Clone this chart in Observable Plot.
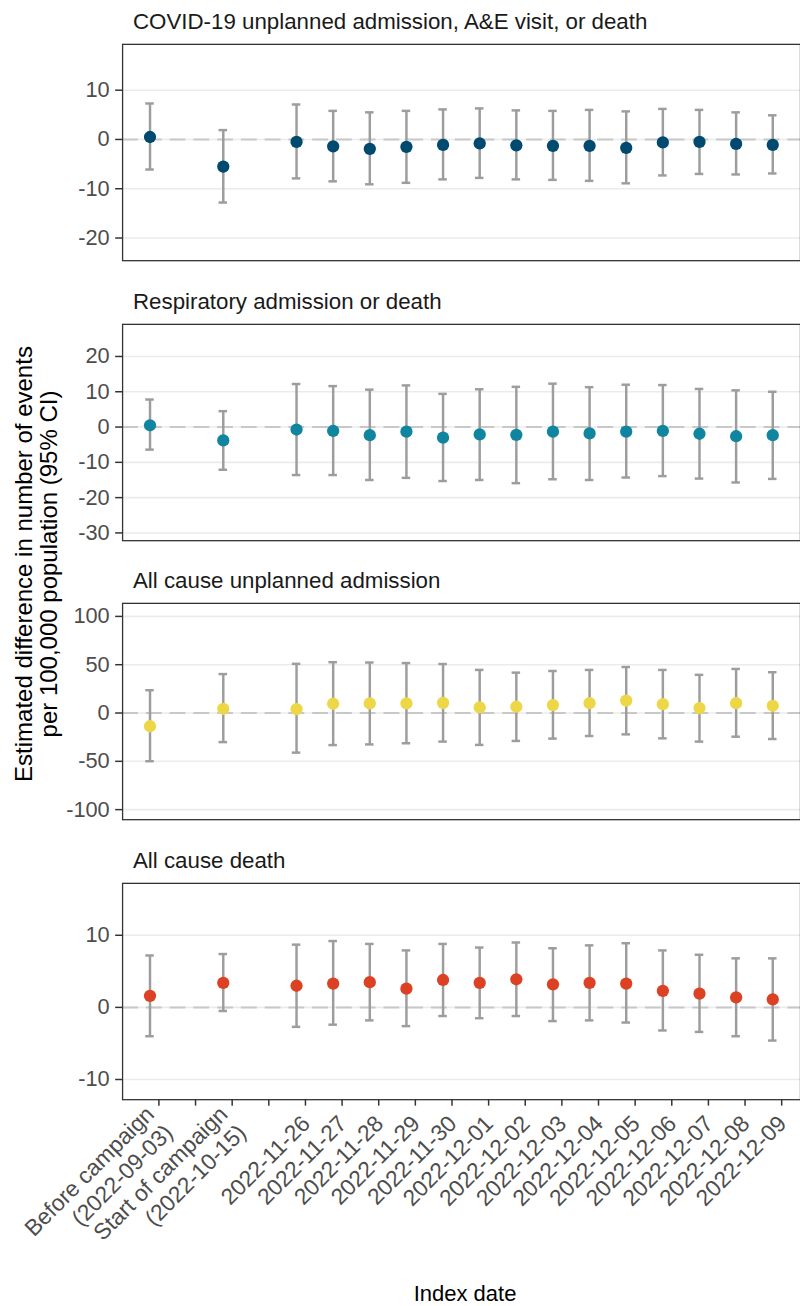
<!DOCTYPE html>
<html><head><meta charset="utf-8">
<script src="https://cdn.jsdelivr.net/npm/d3@7"></script>
<script src="https://cdn.jsdelivr.net/npm/@observablehq/plot@0.6"></script>
<style>
html,body{margin:0;padding:0;background:#fff;overflow:hidden}
#fig{position:relative;width:800px;height:1306px;overflow:hidden;font-family:"Liberation Sans",Arial,sans-serif;background:#fff}
#fig svg{position:absolute;left:0}
.strip{position:absolute;left:133px;font-size:22.3px;line-height:22px;color:#1a1a1a;white-space:nowrap}
.ytitle{position:absolute;width:600px;height:50px;left:-264px;top:538.5px;transform:rotate(-90deg);text-align:center;font-size:24px;line-height:25px;color:#000;white-space:nowrap}
.xtitle{position:absolute;left:265px;width:400px;top:1283px;text-align:center;font-size:22px;line-height:22px;color:#000}
</style></head>
<body><div id="fig"></div>
<script>
// Categories on the x axis (two unlabeled gap positions)
const xCategories = ["Before campaign\n(2022-09-03)", "gap1", "Start of campaign\n(2022-10-15)", "gap2",
  "2022-11-26","2022-11-27","2022-11-28","2022-11-29","2022-11-30","2022-12-01","2022-12-02",
  "2022-12-03","2022-12-04","2022-12-05","2022-12-06","2022-12-07","2022-12-08","2022-12-09"];
const indexDates = xCategories.filter(d => !d.startsWith("gap"));

const outcomes = ["COVID-19 unplanned admission, A&E visit, or death", "Respiratory admission or death",
  "All cause unplanned admission", "All cause death"];
const outcomeColors = ["#00496f", "#0f85a0", "#edd746", "#dd4124"];

const covidEst  = [0.5, -5.5, -0.5, -1.4, -1.9, -1.5, -1.1, -0.8, -1.2, -1.3, -1.3, -1.7, -0.6, -0.5, -0.9, -1.1];
const covidLow  = [-6.1, -12.8, -7.9, -8.5, -9.1, -8.8, -8.1, -7.8, -8.1, -8.2, -8.4, -8.9, -7.3, -7.0, -7.1, -6.9];
const covidHigh = [7.3, 1.9, 7.1, 5.8, 5.5, 5.8, 6.1, 6.3, 5.9, 5.8, 6.0, 5.7, 6.2, 6.0, 5.5, 4.9];

const respEst  = [0.5, -3.8, -0.7, -1.1, -2.3, -1.3, -3.0, -2.1, -2.2, -1.3, -1.8, -1.3, -1.1, -1.9, -2.6, -2.3];
const respLow  = [-6.4, -12.1, -13.6, -13.6, -15.0, -14.4, -15.3, -15.0, -15.9, -14.8, -15.0, -14.3, -13.9, -14.6, -15.7, -14.7];
const respHigh = [7.8, 4.5, 12.2, 11.6, 10.6, 11.8, 9.4, 10.7, 11.4, 12.3, 11.3, 12.0, 11.9, 10.8, 10.4, 10.0];

const admEst  = [-13.7, 4.4, 4.1, 9.6, 9.9, 9.9, 10.5, 5.8, 6.5, 8.2, 10.2, 12.9, 9.2, 5.1, 10.2, 7.5];
const admLow  = [-49.9, -30.1, -41.0, -33.2, -32.5, -31.3, -29.6, -33.0, -28.9, -26.5, -23.8, -22.1, -26.2, -29.6, -24.5, -26.9];
const admHigh = [23.6, 40.3, 50.9, 52.6, 52.3, 51.7, 50.7, 44.6, 41.8, 43.5, 44.6, 47.6, 44.6, 39.5, 45.6, 42.2];

const deathEst  = [1.6, 3.4, 3.0, 3.3, 3.5, 2.6, 3.8, 3.4, 3.9, 3.2, 3.4, 3.3, 2.3, 1.9, 1.4, 1.1];
const deathLow  = [-4.0, -0.5, -2.7, -2.4, -1.8, -2.6, -1.2, -1.5, -1.2, -1.9, -1.8, -2.1, -3.2, -3.4, -4.0, -4.6];
const deathHigh = [7.2, 7.4, 8.7, 9.2, 8.8, 7.9, 8.8, 8.3, 9.0, 8.2, 8.6, 8.9, 7.9, 7.3, 6.8, 6.8];

const yDomains = [[-24.6, 19.3], [-32.2, 29.1], [-110.4, 113.5], [-12.8, 17.2]];
const yTicks = [[-20, -10, 0, 10], [-30, -20, -10, 0, 10, 20], [-100, -50, 0, 50, 100], [-10, 0, 10]];

const series = [
  [covidEst, covidLow, covidHigh],
  [respEst, respLow, respHigh],
  [admEst, admLow, admHigh],
  [deathEst, deathLow, deathHigh]
];

const fig = document.getElementById("fig");
const panelTops = [44, 323.5, 603, 882.5];
const panelH = 218.5;
const pad = 14;
const bottomExtra = 206;
const font = '"Liberation Sans", Arial, sans-serif';
const barColor = "#9d9d9d";

series.forEach(([est, low, high], p) => {
  const data = indexDates.map((d, i) => ({date: d, est: est[i], low: low[i], high: high[i]}));
  const last = p === series.length - 1;
  const marks = [
    Plot.gridY(yTicks[p], {stroke: "#ebebeb", strokeOpacity: 1, strokeWidth: 1.6}),
    Plot.ruleY([0], {stroke: "#c8c8c8", strokeWidth: 2, strokeDasharray: "16,8"}),
    Plot.ruleX(data, {x: "date", y1: "low", y2: "high", stroke: barColor, strokeWidth: 2.5}),
    Plot.ruleY(data, {x1: "date", x2: "date", y: "high", insetLeft: -4.3, insetRight: -4.3, stroke: barColor, strokeWidth: 2.5}),
    Plot.ruleY(data, {x1: "date", x2: "date", y: "low", insetLeft: -4.3, insetRight: -4.3, stroke: barColor, strokeWidth: 2.5}),
    Plot.dot(data, {x: "date", y: "est", r: 6.2, fill: outcomeColors[p], stroke: "none"}),
    Plot.frame({stroke: "#333333", strokeWidth: 1.3}),
    Plot.axisY({ticks: yTicks[p], tickSize: 7, tickPadding: 6, fontSize: 22, fill: "#4d4d4d", stroke: "#333333",
      strokeWidth: 1.5, label: null, tickFormat: d => String(d)})
  ];
  if (last) {
    marks.push(Plot.axisX({tickSize: 6.5, tickPadding: 13, tickRotate: -45, fontSize: 23, lineHeight: 1.15,
      dx: 9, fill: "#4d4d4d", stroke: "#333333", strokeWidth: 1.5, label: null,
      tickFormat: d => d.startsWith("gap") ? "" : d}));
  }
  const svg = Plot.plot({
    width: 808,
    height: panelH + pad + (last ? bottomExtra : pad),
    marginLeft: 123.3, marginRight: 0, marginTop: pad, marginBottom: last ? bottomExtra : pad,
    style: {fontFamily: font, background: "transparent", color: "#333333"},
    x: {type: "point", domain: xCategories, padding: 0.6, axis: null},
    y: {domain: yDomains[p], axis: null},
    marks
  });
  svg.style.top = (panelTops[p] - pad) + "px";
  fig.appendChild(svg);

  const strip = document.createElement("div");
  strip.className = "strip";
  strip.textContent = outcomes[p];
  strip.style.top = (panelTops[p] - 32.6) + "px";
  fig.appendChild(strip);
});

const yt = document.createElement("div");
yt.className = "ytitle";
yt.innerHTML = "Estimated difference in number of events<br>per 100,000 population (95% CI)";
fig.appendChild(yt);

const xt = document.createElement("div");
xt.className = "xtitle";
xt.textContent = "Index date";
fig.appendChild(xt);
</script>
</body></html>
